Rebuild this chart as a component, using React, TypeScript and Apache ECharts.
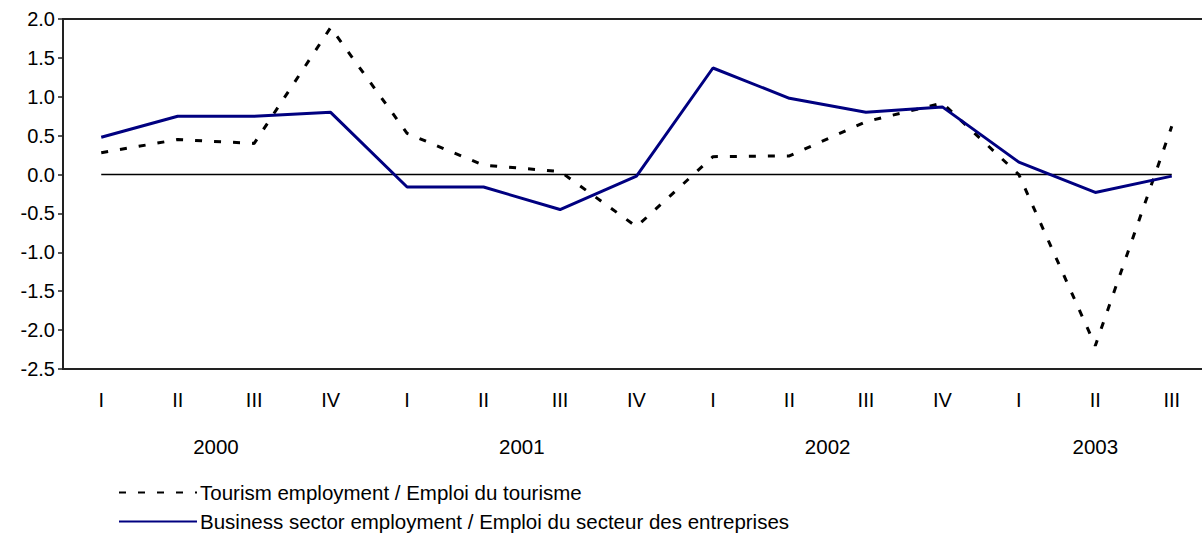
import React, { useEffect, useRef } from 'react';
import * as echarts from 'echarts';

const quarterLabels = ['I', 'II', 'III', 'IV', 'I', 'II', 'III', 'IV', 'I', 'II', 'III', 'IV', 'I', 'II', 'III'];
const quarterYears = ['2000', '2000', '2000', '2000', '2001', '2001', '2001', '2001', '2002', '2002', '2002', '2002', '2003', '2003', '2003'];
const tourism = [0.28, 0.45, 0.4, 1.89, 0.53, 0.12, 0.04, -0.67, 0.23, 0.24, 0.68, 0.92, 0.0, -2.2, 0.62];
const business = [0.48, 0.75, 0.75, 0.8, -0.16, -0.16, -0.45, -0.02, 1.37, 0.98, 0.8, 0.87, 0.16, -0.23, -0.02];
const zeroRef = [0, 0, 0, 0, 0, 0, 0, 0, 0, 0, 0, 0, 0, 0, 0];
const tourismName = 'Tourism employment / Emploi du tourisme';
const businessName = 'Business sector employment / Emploi du secteur des entreprises';

const FONT = 'Liberation Sans, Arial, sans-serif';

export default function App() {
  const ref = useRef<HTMLDivElement>(null);
  useEffect(() => {
    if (!ref.current) return;
    const chart = echarts.init(ref.current, null, { renderer: 'svg' });
    const yearCenters: { year: string; pos: number }[] = [];
    const seen: Record<string, number[]> = {};
    quarterYears.forEach((y, i) => {
      if (!seen[y]) seen[y] = [];
      seen[y].push(i);
    });
    Object.keys(seen).forEach((y) => {
      const idx = seen[y];
      yearCenters.push({ year: y, pos: idx.reduce((a, b) => a + b, 0) / idx.length });
    });
    const n = quarterLabels.length;
    const legendBase = {
      orient: 'vertical',
      left: 113,
      itemWidth: 78,
      itemHeight: 14,
      itemStyle: { opacity: 0 },
      textStyle: { fontSize: 20.5, color: '#000', fontFamily: FONT, padding: [0, 0, 0, -2] },
    };
    chart.setOption({
      animation: false,
      textStyle: { fontFamily: FONT },
      grid: {
        left: 63,
        top: 19,
        width: 1147,
        height: 350,
        show: true,
        borderColor: '#222',
        borderWidth: 2,
        backgroundColor: 'transparent',
        containLabel: false,
        outerBoundsMode: 'none',
      },
      legend: [
        { ...legendBase, data: [tourismName], top: 477 },
        { ...legendBase, data: [businessName], top: 506 },
      ],
      xAxis: [
        {
          type: 'category',
          data: quarterLabels,
          boundaryGap: true,
          axisLine: { show: true, onZero: false, lineStyle: { color: '#222', width: 2 } },
          axisTick: { show: false },
          axisLabel: { color: '#000', fontSize: 20, margin: 21, interval: 0, fontFamily: FONT },
          splitLine: { show: false },
        },
        {
          type: 'value',
          position: 'bottom',
          min: -0.5,
          max: n - 0.5,
          interval: 0.5,
          axisLine: { show: false, onZero: false },
          axisTick: { show: false },
          splitLine: { show: false },
          axisLabel: {
            color: '#000',
            fontSize: 20.5,
            margin: 67,
            fontFamily: FONT,
            formatter: (v: number) => {
              const hit = yearCenters.find((c) => Math.abs(c.pos - v) < 0.01);
              return hit ? hit.year : '';
            },
          },
        },
      ],
      yAxis: {
        type: 'value',
        min: -2.5,
        max: 2,
        interval: 0.5,
        axisLine: { show: true, onZero: false, lineStyle: { color: '#222', width: 2 } },
        axisTick: { show: true, inside: false, length: 5, lineStyle: { color: '#222', width: 1.5 } },
        splitLine: { show: false },
        axisLabel: {
          color: '#000',
          fontSize: 20,
          margin: 8,
          fontFamily: FONT,
          formatter: (v: number) => v.toFixed(1),
        },
      },
      series: [
        {
          name: 'zero',
          type: 'line',
          data: zeroRef,
          symbol: 'none',
          silent: true,
          lineStyle: { color: '#000', width: 1.5 },
          z: 1,
        },
        {
          name: tourismName,
          type: 'line',
          data: tourism,
          symbol: 'none',
          color: '#000',
          lineStyle: { color: '#000', width: 3, type: [7, 12] },
          z: 2,
        },
        {
          name: businessName,
          type: 'line',
          data: business,
          symbol: 'none',
          color: '#000080',
          lineStyle: { color: '#000080', width: 3 },
          z: 3,
        },
      ],
    });
    return () => chart.dispose();
  }, []);
  return (
    <div
      ref={ref}
      style={{ position: 'absolute', left: 0, top: 0, width: 1202, height: 533, background: '#fff' }}
    />
  );
}
